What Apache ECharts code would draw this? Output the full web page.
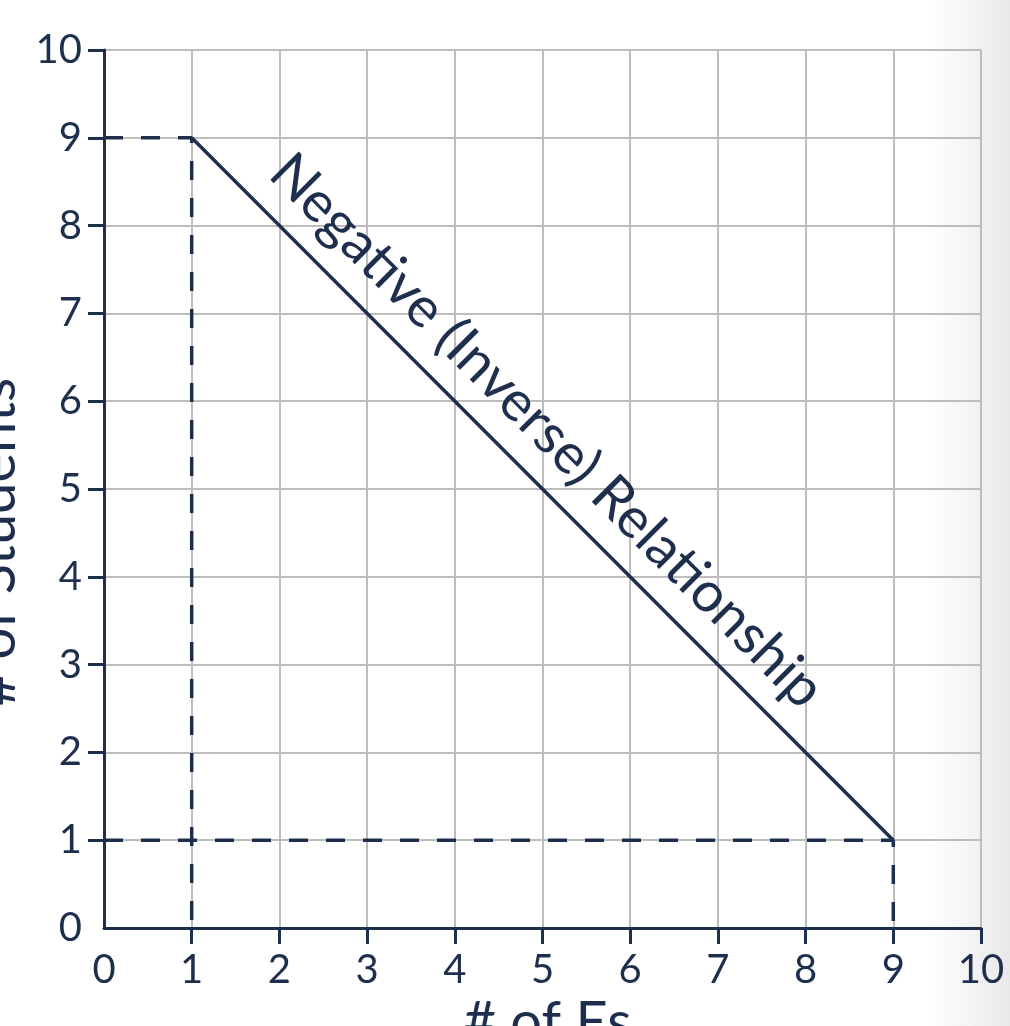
<!DOCTYPE html>
<html>
<head>
<meta charset="utf-8">
<script src="https://cdn.jsdelivr.net/npm/echarts@6/dist/echarts.min.js"></script>
<style>
  html, body { margin: 0; padding: 0; background: #fff; }
  #main { width: 1010px; height: 1026px; }
</style>
</head>
<body>
<div id="main"></div>
<script>
// values
var axisValues = [0, 1, 2, 3, 4, 5, 6, 7, 8, 9, 10]
var tickValues = [1, 2, 3, 4, 5, 6, 7, 8, 9, 10]
var relationLine = [[1, 9], [9, 1]]
var guideHigh = [[0, 9], [1, 9], [1, 0]]
var guideLow = [[0, 1], [9, 1], [9, 0]]
var relationLabel = 'Negative (Inverse) Relationship'
var xName = '# of Es'
var yName = '# of Students'

var navy = '#1e2f4e'
var gridGray = '#bdbdbd'
var font = 'Lato'

var myChart = echarts.init(document.getElementById('main'))

function axis(name, isY) {
    return {
        type: 'value',
        min: 0,
        max: 10,
        interval: 1,
        name: name,
        nameLocation: 'middle',
        nameGap: isY ? 76 : 60,
        nameTextStyle: {
            color: navy,
            fontFamily: font,
            fontSize: 56,
            padding: isY ? [0, 106, 0, 0] : [0, 0, 0, 10]
        },
        axisLine: { show: true, lineStyle: { color: navy, width: 3 } },
        axisTick: {
            show: true,
            length: 16,
            customValues: tickValues,
            lineStyle: { color: navy, width: 3 }
        },
        axisLabel: {
            color: navy,
            fontFamily: font,
            fontSize: 40,
            margin: 22,
            customValues: axisValues
        },
        splitLine: { show: true, lineStyle: { color: gridGray, width: 2 } }
    }
}

var dashStyle = { color: navy, width: 3.5, type: [19, 18] }

var option = {
    animation: false,
    backgroundColor: '#fff',
    grid: {
        left: 104, right: 29, top: 50, bottom: 98,
        containLabel: false,
        outerBoundsMode: 'none'
    },
    graphic: [{
        type: 'rect',
        z: -10,
        shape: { x: 930, y: 0, width: 80, height: 1026 },
        style: {
            fill: new echarts.graphic.LinearGradient(0, 0, 1, 0, [
                { offset: 0, color: 'rgba(0,0,0,0)' },
                { offset: 1, color: 'rgba(0,0,0,0.09)' }
            ])
        }
    }],
    xAxis: axis(xName, false),
    yAxis: axis(yName, true),
    series: [
        {
            type: 'line',
            data: guideHigh,
            symbol: 'none',
            lineStyle: dashStyle,
            z: 3
        },
        {
            type: 'line',
            data: guideLow,
            symbol: 'none',
            lineStyle: dashStyle,
            z: 3
        },
        {
            type: 'line',
            data: relationLine,
            symbol: 'none',
            lineStyle: { color: navy, width: 3.5 },
            z: 4,
            markLine: {
                silent: true,
                symbol: 'none',
                lineStyle: { color: 'transparent', width: 0, type: 'solid' },
                label: {
                    show: true,
                    position: 'middle',
                    distance: 16,
                    formatter: relationLabel,
                    color: navy,
                    fontFamily: font,
                    fontSize: 56,
                    padding: [0, 76, 0, 0]
                },
                data: [[{ coord: relationLine[0] }, { coord: relationLine[1] }]]
            }
        }
    ]
}
myChart.setOption(option)
</script>
</body>
</html>
